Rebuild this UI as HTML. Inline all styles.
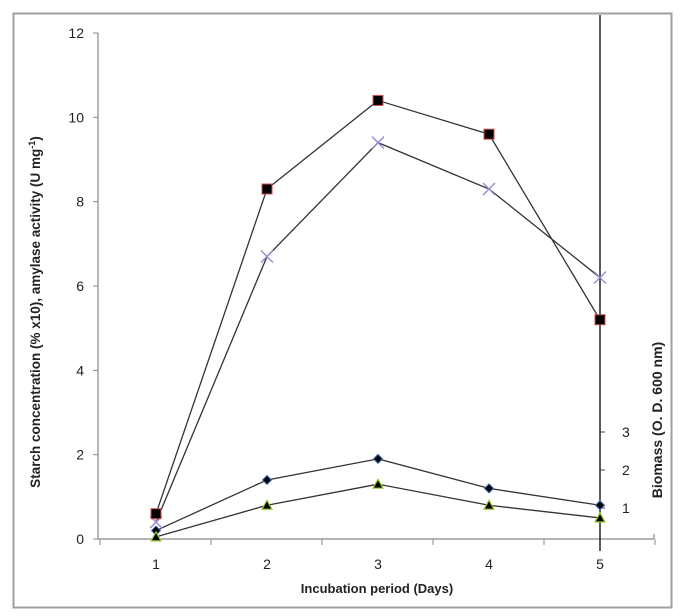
<!DOCTYPE html>
<html><head><meta charset="utf-8"><style>
body{margin:0;background:#fff;}
svg text{font-family:"Liberation Sans",sans-serif;fill:#222;}
</style></head><body>
<svg width="680" height="611" viewBox="0 0 680 611">
<rect x="13.5" y="13.5" width="658" height="594" fill="#fff" stroke="#a0a0a0" stroke-width="2"/>
<g id="axes"></g>
<g id="series"></g>
<text x="0" y="0" transform="translate(40,312) rotate(-90)" text-anchor="middle" font-size="13.5" font-weight="bold">Starch concentration (% x10), amylase activity  (U mg<tspan baseline-shift="super" font-size="9">-1</tspan>)</text>
<text x="0" y="0" transform="translate(662,420) rotate(-90)" text-anchor="middle" font-size="14" font-weight="bold">Biomass (O. D. 600 nm)</text>
<text x="377" y="593" text-anchor="middle" font-size="13" font-weight="bold">Incubation period  (Days)</text>
</svg>
<script>
const days=[1,2,3,4,5];
const yTicks=[0,2,4,6,8,10,12];
const rightTicks=[1,2,3];
const starch=[0.6,8.3,10.4,9.6,5.2];
const amylase=[0.4,6.7,9.4,8.3,6.2];
const biomassA=[0.2,1.4,1.9,1.2,0.8];
const biomassB=[0.05,0.8,1.3,0.8,0.5];
const NS="http://www.w3.org/2000/svg";
const X=d=>156+(d-1)*111;
const Y=v=>539-v*(506/12);
const YR=v=>546-v*38;
const axes=document.getElementById('axes'),ser=document.getElementById('series');
function mk(tag,a,p){const e=document.createElementNS(NS,tag);for(const k in a)e.setAttribute(k,a[k]);(p||axes).appendChild(e);return e;}
let e;
e=mk('line',{x1:98,y1:Y(12),x2:98,y2:539,stroke:'#888','stroke-width':1.2});


e=mk('line',{x1:98,y1:539,x2:654,y2:539,stroke:'#888','stroke-width':1.2});


e=mk('line',{x1:654,y1:539,x2:654,y2:534,stroke:'#888','stroke-width':1.2});


e=mk('line',{x1:600,y1:15,x2:600,y2:551,stroke:'#222','stroke-width':1.5});


yTicks.forEach(v=>{
 e=mk('line',{x1:93,y1:Y(v),x2:98,y2:Y(v),stroke:'#888'});
 
 
 e=mk('text',{x:84,y:Y(v)+5,'text-anchor':'end','font-size':14});e.textContent=v;
 
 
});
for(let i=0;i<=5;i++){
 const x=100+i*111;
 e=mk('line',{x1:x,y1:539,x2:x,y2:545,stroke:'#888'});
 
 
}
days.forEach(d=>{
 e=mk('text',{x:X(d),y:569,'text-anchor':'middle','font-size':14});e.textContent=d;
 
 
});
rightTicks.forEach(v=>{
 e=mk('line',{x1:600,y1:YR(v),x2:605,y2:YR(v),stroke:'#444'});
 
 
 e=mk('text',{x:622,y:YR(v)+5,'font-size':14});e.textContent=v;
 
 
});
function line(vals,name){
 const p=mk('polyline',{points:vals.map((v,i)=>X(days[i])+','+Y(v)).join(' '),fill:'none',stroke:'#333','stroke-width':1.3},ser);
 
 
}
line(starch,'starch');line(amylase,'amylase');line(biomassA,'biomass-a');line(biomassB,'biomass-b');
amylase.forEach((v,i)=>{const x=X(days[i]),y=Y(v);
 const g=mk('path',{d:`M${x-6},${y-6}L${x+6},${y+6}M${x-6},${y+6}L${x+6},${y-6}`,stroke:'#9a86d2','stroke-width':1.4},ser);
 
 });
starch.forEach((v,i)=>{const x=X(days[i]),y=Y(v);
 const g=mk('rect',{x:x-5,y:y-5,width:10,height:10,fill:'#000',stroke:'#d05050','stroke-width':1},ser);
 
 });
biomassA.forEach((v,i)=>{const x=X(days[i]),y=Y(v);
 const g=mk('path',{d:`M${x},${y-4.5}L${x+4.5},${y}L${x},${y+4.5}L${x-4.5},${y}Z`,fill:'#000',stroke:'#3a6ec0','stroke-width':1},ser);
 
 });
biomassB.forEach((v,i)=>{const x=X(days[i]),y=Y(v);
 const g=mk('path',{d:`M${x},${y-5}L${x+5},${y+4}L${x-5},${y+4}Z`,fill:'#000',stroke:'#9acd32','stroke-width':1.2},ser);
 
 });
</script>
</body></html>
